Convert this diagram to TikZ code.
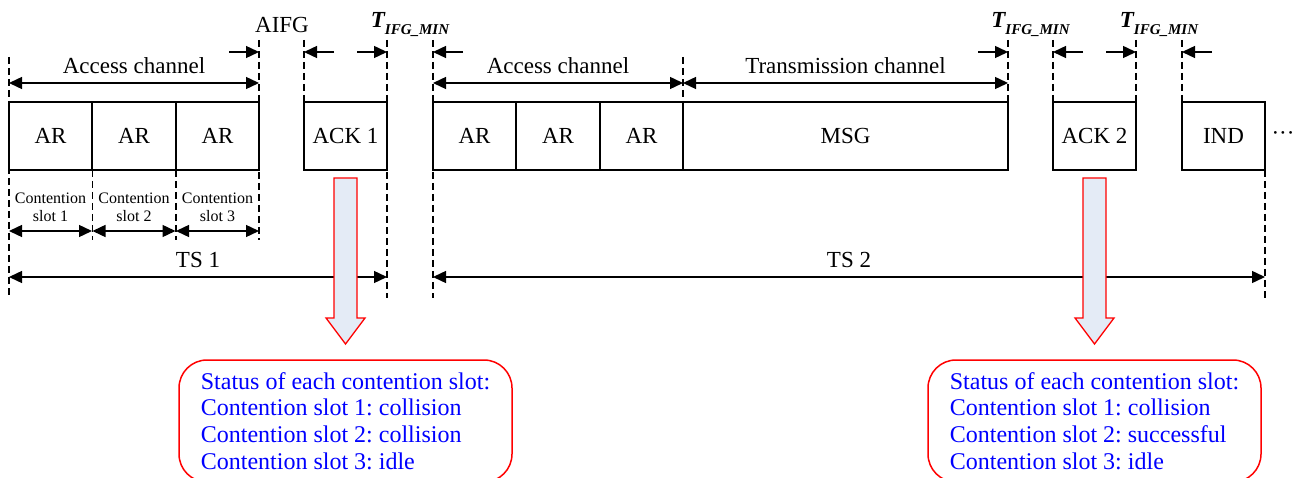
\documentclass[tikz,border=0pt]{standalone}
\usepackage{fontspec}
\setmainfont{Liberation Serif}
\usepackage{xcolor}
\usetikzlibrary{arrows.meta, positioning}
\frenchspacing

\definecolor{ackfill}{HTML}{E4EBF6}
\newcommand{\tifg}{{\bfseries\itshape T\raisebox{-7pt}{\fontsize{15}{15}\selectfont IFG\_MIN}}}

\begin{document}
\begin{tikzpicture}[x=1pt, y=-1pt, >={Triangle[length=13pt, width=12pt]},
                    line width=1.4pt, font=\fontsize{23}{26}\selectfont]
\tikzstyle{frame}=[draw=black, line width=1.5pt, inner sep=0pt, outer sep=0pt,
                    minimum width=83pt, minimum height=68pt]
\tikzstyle{guide}=[dash pattern=on 7pt off 4pt, line width=1.3pt]
\tikzstyle{lbl}=[above, inner sep=0pt, yshift=8.5pt]
\tikzstyle{small}=[font=\fontsize{16}{18}\selectfont, align=center]
\tikzstyle{status}=[draw=red, line width=1.5pt, rounded corners=28pt, text=blue,
                    align=left, minimum width=333pt, minimum height=122pt,
                    font=\fontsize{24}{26.7}\selectfont]
\tikzstyle{bigarrow}=[draw=red, fill=ackfill, line width=1.3pt, line join=miter]
  \useasboundingbox (0,0) rectangle (1295,478);
  \clip (0,0) rectangle (1295,478);
  % frames of the two time slots
  \node[frame] (ar1) at (50.5,136) {AR};
  \node[frame] (ar2)  [right of=ar1, node distance=83.5pt] {AR};
  \node[frame] (ar3)  [right of=ar2, node distance=83.5pt] {AR};
  \node[frame] (ack1) [right of=ar3, node distance=128pt] {ACK 1};
  \node[frame] (ar4)  [right of=ack1, node distance=129pt] {AR};
  \node[frame] (ar5)  [right of=ar4, node distance=83.5pt] {AR};
  \node[frame] (ar6)  [right of=ar5, node distance=83.5pt] {AR};
  \node[frame, minimum width=325pt] (msg) [right of=ar6, node distance=204pt] {MSG};
  \node[frame] (ack2) [right of=msg, node distance=249pt] {ACK 2};
  \node[frame] (ind)  [right of=ack2, node distance=129pt] {IND};
  \node[inner sep=0pt] (more) [right of=ind, node distance=59.5pt] {···};
  % dashed guides
  \draw[guide] ([yshift=45pt]ar1.north west) -- ([yshift=-128pt]ar1.south west);
  \draw[guide] (ar2.south west) -- ([yshift=-70pt]ar2.south west);
  \draw[guide] (ar3.south west) -- ([yshift=-70pt]ar3.south west);
  \draw[guide] ([yshift=62pt]ar3.north east) -- ([yshift=-70pt]ar3.south east);
  \draw[guide] ([yshift=62pt]ack1.north west) -- (ack1.north west);
  \draw[guide] ([yshift=62pt]ack1.north east) -- ([yshift=-128pt]ack1.south east);
  \draw[guide] ([yshift=62pt]ar4.north west) -- ([yshift=-128pt]ar4.south west);
  \draw[guide] ([yshift=45pt]ar6.north east) -- (ar6.north east);
  \draw[guide] ([yshift=62pt]msg.north east) -- (msg.north east);
  \draw[guide] ([yshift=62pt]ack2.north west) -- (ack2.north west);
  \draw[guide] ([yshift=62pt]ack2.north east) -- (ack2.north east);
  \draw[guide] ([yshift=62pt]ind.north west) -- (ind.north west);
  \draw[guide] (ind.south east) -- ([yshift=-128pt]ind.south east);
  % gap labels
  \node[anchor=base] (aifg) at (282,33) {AIFG};
  \node[anchor=base] (gap1) at (410,28) {\tifg};
  \node[anchor=base] (gap2) at (1030.5,28) {\tifg};
  \node[anchor=base] (gap3) at (1159,28) {\tifg};
  % gap arrows
  \path[->] ([xshift=-30pt,yshift=50pt]ar3.north east) edge ([yshift=50pt]ar3.north east);
  \path[->] ([xshift=30pt,yshift=50pt]ack1.north west) edge ([yshift=50pt]ack1.north west);
  \path[->] ([xshift=-30pt,yshift=50pt]ack1.north east) edge ([yshift=50pt]ack1.north east);
  \path[->] ([xshift=30pt,yshift=50pt]ar4.north west) edge ([yshift=50pt]ar4.north west);
  \path[->] ([xshift=-30pt,yshift=50pt]msg.north east) edge ([yshift=50pt]msg.north east);
  \path[->] ([xshift=30pt,yshift=50pt]ack2.north west) edge ([yshift=50pt]ack2.north west);
  \path[->] ([xshift=-30pt,yshift=50pt]ack2.north east) edge ([yshift=50pt]ack2.north east);
  \path[->] ([xshift=30pt,yshift=50pt]ind.north west) edge ([yshift=50pt]ind.north west);
  % channel spans
  \path[<->] ([yshift=19pt]ar1.north west) edge node[lbl] {Access channel} ([yshift=19pt]ar3.north east);
  \path[<->] ([yshift=19pt]ar4.north west) edge node[lbl] {Access channel} ([yshift=19pt]ar6.north east);
  \path[<->] ([yshift=19pt]msg.north west) edge node[lbl] {Transmission channel} ([yshift=19pt]msg.north east);
  % contention slots
  \path[<->] ([yshift=-61pt]ar1.south west) edge node[lbl, small] {Contention\\slot 1} ([yshift=-61pt]ar1.south east);
  \path[<->] ([yshift=-61pt]ar2.south west) edge node[lbl, small] {Contention\\slot 2} ([yshift=-61pt]ar2.south east);
  \path[<->] ([yshift=-61pt]ar3.south west) edge node[lbl, small] {Contention\\slot 3} ([yshift=-61pt]ar3.south east);
  % time slots
  \path[<->] ([yshift=-107pt]ar1.south west) edge node[lbl] {TS 1} ([yshift=-107pt]ack1.south east);
  \path[<->] ([yshift=-107pt]ar4.south west) edge node[lbl] {TS 2} ([yshift=-107pt]ind.south east);
  % feedback carried by the ACKs
  \draw[bigarrow] ([xshift=-11.5pt,yshift=-8pt]ack1.south) -- ++(0,140) -- ++(-8,0)
        -- ++(19.5,26) -- ++(19.5,-26) -- ++(-8,0) -- ++(0,-140) -- cycle;
  \draw[bigarrow] ([xshift=-11.5pt,yshift=-8pt]ack2.south) -- ++(0,140) -- ++(-8,0)
        -- ++(19.5,26) -- ++(19.5,-26) -- ++(-8,0) -- ++(0,-140) -- cycle;
  \node[status] (stat1) [below of=ack1, node distance=285pt]
        {Status of each contention slot:\\Contention slot 1: collision\\Contention slot 2: collision\\Contention slot 3: idle};
  \node[status] (stat2) [below of=ack2, node distance=285pt]
        {Status of each contention slot:\\Contention slot 1: collision\\Contention slot 2: successful\\Contention slot 3: idle};
\end{tikzpicture}
\end{document}
